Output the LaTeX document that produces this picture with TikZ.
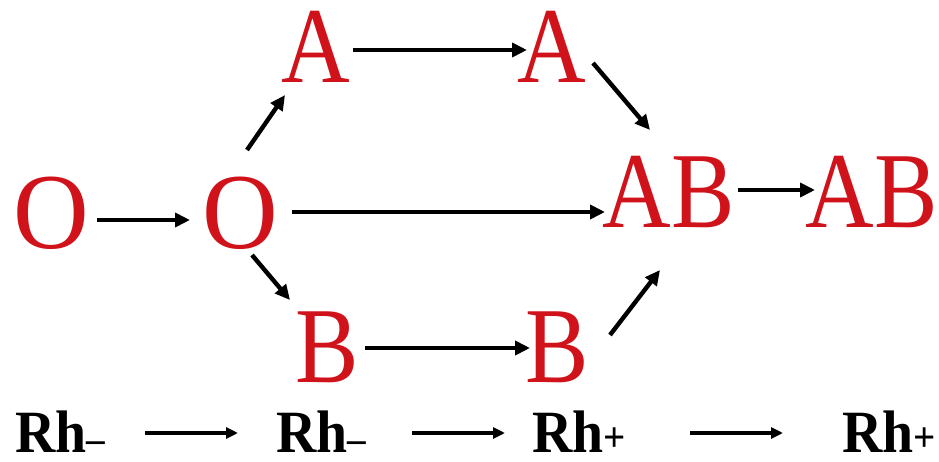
\documentclass[tikz,border=0pt]{standalone}
\usepackage{fontspec}
\setmainfont{Liberation Serif}
\usetikzlibrary{arrows.meta}
\definecolor{bloodred}{RGB}{208,18,26}
\newcommand{\grptext}[2][0.88]{\scalebox{#1}[1]{#2}}
\newcommand{\rhminus}{\scalebox{0.93}[1]{Rh{\fontsize{40pt}{40pt}\selectfont\raisebox{0pt}{\textendash}}}}
\newcommand{\rhplus}{\scalebox{0.93}[1]{Rh{\fontsize{42pt}{42pt}\selectfont\raisebox{1pt}{+}}}}
\begin{document}
\begin{tikzpicture}[x=1pt,y=-1pt,
  grp/.style={anchor=base,inner sep=0pt,text=bloodred,font=\fontsize{108pt}{108pt}\selectfont},
  rh/.style={anchor=base,inner sep=0pt,text=black,font=\bfseries\fontsize{60pt}{60pt}\selectfont},
  arr/.style={line width=4.4pt,-{Triangle[length=15pt,width=14pt]}},
  rharr/.style={line width=3.4pt,-{Triangle[length=12pt,width=11pt]}}]
\useasboundingbox (0,0) rectangle (939,462);
% blood group nodes
\node[grp] (O1) at (51,249) {\grptext[0.97]{O}};
\node[grp] (O2) at (240,249) {\grptext[0.97]{O}};
\node[grp] (A1) at (316,83) {\grptext{A}};
\node[grp] (A2) at (552,83) {\grptext{A}};
\node[grp] (B1) at (327,382) {\grptext{B}};
\node[grp] (B2) at (557,382) {\grptext{B}};
\node[grp] (AB1) at (669,228) {\grptext{AB}};
\node[grp] (AB2) at (872,228) {\grptext{AB}};
% Rh nodes
\node[rh] (R1) at (60,452) {\rhminus};
\node[rh] (R2) at (321,452) {\rhminus};
\node[rh] (R3) at (579,452) {\rhplus};
\node[rh] (R4) at (889,452) {\rhplus};
% connectors
\draw[arr] ([xshift=46pt,yshift=29pt]O1.base) -- ([xshift=-50pt,yshift=29pt]O2.base);
\draw[arr] ([xshift=52pt,yshift=37pt]O2.base) -- ([xshift=-64pt,yshift=16pt]AB1.base);
\draw[arr] ([xshift=69pt,yshift=38pt]AB1.base) -- ([xshift=-57pt,yshift=38pt]AB2.base);
\draw[arr] ([xshift=37pt,yshift=33pt]A1.base) -- ([xshift=-25pt,yshift=33pt]A2.base);
\draw[arr] ([xshift=7pt,yshift=99pt]O2.base) -- ([xshift=-31pt,yshift=-12pt]A1.base);
\draw[arr] ([xshift=12pt,yshift=-6pt]O2.base) -- ([xshift=-37pt,yshift=82pt]B1.base);
\draw[arr] ([xshift=38pt,yshift=34pt]B1.base) -- ([xshift=-27pt,yshift=34pt]B2.base);
\draw[arr] ([xshift=41pt,yshift=20pt]A2.base) -- ([xshift=-19pt,yshift=98pt]AB1.base);
\draw[arr] ([xshift=53pt,yshift=47pt]B2.base) -- ([xshift=-9pt,yshift=-42pt]AB1.base);
\draw[rharr] ([xshift=85pt,yshift=19pt]R1.base) -- ([xshift=-83pt,yshift=19pt]R2.base);
\draw[rharr] ([xshift=91pt,yshift=19pt]R2.base) -- ([xshift=-74pt,yshift=19pt]R3.base);
\draw[rharr] ([xshift=111pt,yshift=19pt]R3.base) -- ([xshift=-106pt,yshift=19pt]R4.base);
\end{tikzpicture}
\end{document}
